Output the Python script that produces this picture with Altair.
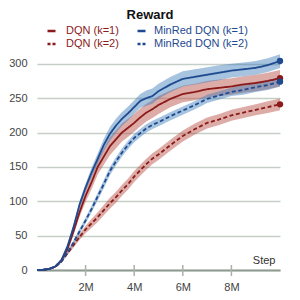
import altair as alt
import pandas as pd

W, H = 243, 220

steps = [0, 0.25, 0.5, 0.75, 1.0, 1.25, 1.5, 1.75, 2.0, 2.25, 2.5, 2.75, 3.0,
         3.25, 3.5, 3.75, 4.0, 4.25, 4.5, 4.75, 5.0,
         5.5, 6.0, 6.5, 7.0, 7.5, 8.0, 8.5, 9.0, 9.5, 10.0]

dqn_k1 = [0, 0.3, 1.5, 5, 14, 30, 56, 84, 108, 128, 150, 165, 180, 190, 200, 207,
          214, 222, 229, 234, 240, 249, 256, 259, 263, 265, 267, 270, 272, 275, 279]
dqn_k2 = [0, 0.3, 1.5, 4.5, 12, 24, 36, 48, 59, 68, 77, 87, 97, 106, 116, 125,
          136, 145, 154, 162, 168, 182, 195, 205, 214, 219, 225, 229, 233, 237, 241]
minred_k1 = [0, 0.3, 1.5, 5, 14, 34, 62, 95, 120, 142, 162, 182, 198, 210, 220, 228,
             237, 246, 250, 253, 260, 270, 278, 281, 284, 287, 290, 292, 294, 298, 304]
minred_k2 = [0, 0.3, 1.5, 4.5, 12, 25, 40, 56, 72, 89, 107, 125, 144, 158, 171, 182,
             192, 199, 206, 211, 215, 224, 232, 240, 249, 254, 259, 262, 266, 269, 274]

dqn_k1_sd = [0, 0.2, 0.5, 1, 2, 3, 5, 7, 9, 10, 11, 12, 13, 13, 13, 13,
             13, 13, 13, 13, 13, 12, 12, 12, 12, 12, 12, 12, 12, 12, 12]
dqn_k2_sd = [0, 0.2, 0.4, 0.8, 1.5, 2.5, 3.5, 4.5, 5.5, 6.5, 7, 7.5, 8, 8, 8, 8,
             8, 8, 8, 8, 8, 8, 8, 8, 8, 8, 8, 8, 8, 8.5, 8.5]
minred_k1_sd = [0, 0.2, 0.5, 1, 2, 3, 4, 5, 6, 7, 8, 9, 10, 10, 10, 10,
                10, 10, 11, 11, 11, 11, 11, 11, 11, 11, 10, 10, 10, 10, 10]
minred_k2_sd = [0, 0.2, 0.4, 0.8, 1.5, 2.5, 3, 4, 4.5, 5, 5.5, 6, 6, 6, 6, 6,
                6, 6, 6, 6, 6, 6, 6, 6, 6, 6, 6, 7, 7, 7, 7]

series_names = ["DQN (k=1)", "DQN (k=2)", "MinRed DQN (k=1)", "MinRed DQN (k=2)"]
line_colors = ["#8b1a1a", "#8b1a1a", "#1f4a8f", "#1f4a8f"]
band_colors = ["#b5483c", "#b5483c", "#3a7ab8", "#3a7ab8"]
dashes = [[1, 0], [4, 2.5], [1, 0], [4, 2.5]]
chart_title = "Reward"

x_ticks = [2, 4, 6, 8]
y_ticks = [0, 50, 100, 150, 200, 250, 300]

rows = []
for name, vals, sds in zip(series_names,
                           [dqn_k1, dqn_k2, minred_k1, minred_k2],
                           [dqn_k1_sd, dqn_k2_sd, minred_k1_sd, minred_k2_sd]):
    for s, v, d in zip(steps, vals, sds):
        rows.append({"series": name, "step": s, "reward": v, "lo": v - d, "hi": v + d})
df = pd.DataFrame(rows)
legend_df = pd.DataFrame({"series": series_names})
tick_df = pd.DataFrame({"step": x_ticks})
title_df = pd.DataFrame({"t": [chart_title]})

x_scale = alt.Scale(domain=[0, 10], nice=False)
y_scale = alt.Scale(domain=[0, 320], nice=False)
x_axis = alt.Axis(values=x_ticks, labelExpr="datum.value + 'M'", title="Step",
                  grid=False, ticks=False, domainColor="#8f9a90", domainWidth=2,
                  labelPadding=11, labelFontSize=11, labelColor="#444",
                  titleAnchor="end", titleAlign="right", titleX=W - 5, titleY=-5,
                  titleBaseline="bottom", titleFontWeight="normal",
                  titleFontSize=11, titleColor="#333")
y_axis = alt.Axis(values=y_ticks, title=None, domain=False, ticks=False,
                  gridColor="#c5cfc8", gridWidth=1.3, labelPadding=10,
                  labelFontSize=11, labelColor="#444")

X = alt.X("step:Q", scale=x_scale, axis=x_axis)
fill_scale = alt.Scale(domain=series_names, range=band_colors)
stroke_scale = alt.Scale(domain=series_names, range=line_colors)
dash_scale = alt.Scale(domain=series_names, range=dashes)

bands = alt.Chart(df).mark_area(opacity=0.45).encode(
    x=X,
    y=alt.Y("lo:Q", scale=y_scale, axis=y_axis),
    y2="hi:Q",
    fill=alt.Fill("series:N", scale=fill_scale, legend=None),
)

lines = alt.Chart(df).mark_line(strokeWidth=1.8).encode(
    x=X,
    y=alt.Y("reward:Q", scale=y_scale, axis=y_axis),
    stroke=alt.Stroke("series:N", scale=stroke_scale, legend=None),
    strokeDash=alt.StrokeDash("series:N", scale=dash_scale, legend=None),
)

ends = alt.Chart(df).transform_filter(alt.datum.step == 10).mark_circle(
    size=40, opacity=1).encode(
    x=X,
    y=alt.Y("reward:Q", scale=y_scale, axis=y_axis),
    fill=alt.Fill("series:N", scale=stroke_scale, legend=None),
)

xticks = alt.Chart(tick_df).mark_rule(color="#a9b2aa", strokeWidth=1.5).encode(
    x=X, y=alt.value(H - 5), y2=alt.value(H + 6)
)

title_layer = alt.Chart(title_df).mark_text(
    align="center", baseline="alphabetic", fontSize=13, fontWeight="bold",
    color="#111", font="Liberation Sans"
).encode(x=alt.value(113), y=alt.value(-31), text="t:N")

legend_layers = []
positions = [(10.5, 18.5, 29, -19.0), (10.5, 18.5, 29, -6.0),
             (100.5, 108.5, 117, -19.0), (100.5, 108.5, 117, -6.0)]
for name, col, dash, (sx1, sx2, tx, ty) in zip(series_names, line_colors, dashes, positions):
    sym = alt.Chart(legend_df).transform_filter(alt.datum.series == name).mark_rule(
        color=col, strokeWidth=2.4, strokeDash=[3, 2] if dash[1] > 0 else [1, 0]
    ).encode(x=alt.value(sx1), x2=alt.value(sx2), y=alt.value(ty))
    txt = alt.Chart(legend_df).transform_filter(alt.datum.series == name).mark_text(
        align="left", baseline="middle", fontSize=11, color=col, font="Liberation Sans"
    ).encode(x=alt.value(tx), y=alt.value(ty), text="series:N")
    legend_layers += [sym, txt]

chart = alt.layer(bands, lines, ends, xticks, title_layer, *legend_layers).resolve_scale(
    fill="independent"
).properties(
    width=W, height=H,
    autosize=alt.AutoSizeParams(type="none"),
    padding={"left": 29, "top": 42, "right": 12, "bottom": 22},
).configure(font="Liberation Sans").configure_view(stroke=None)

chart.save("out.html", embed_options={"renderer": "svg", "actions": False})
